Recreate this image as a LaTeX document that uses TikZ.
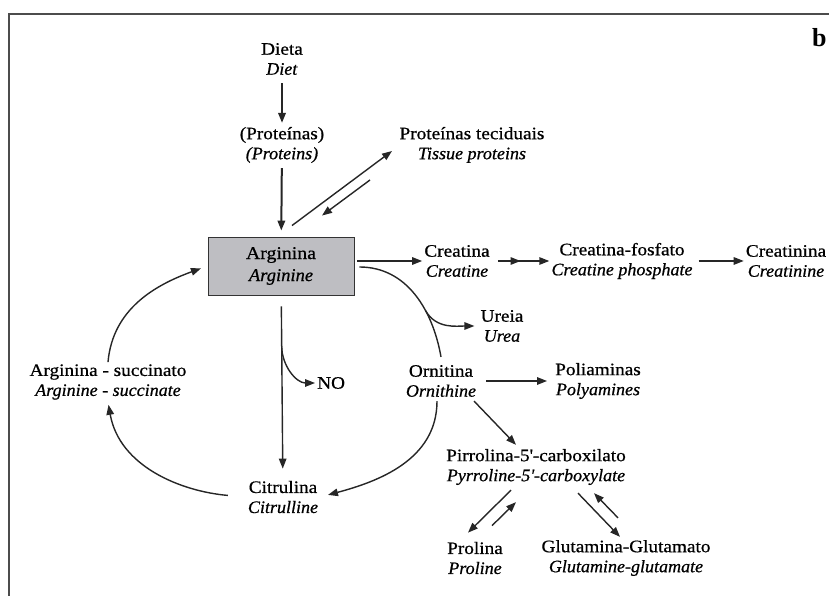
\documentclass[tikz,border=0pt]{standalone}
\usepackage{fontspec}
\setmainfont{Liberation Serif}[UprightFeatures={FakeStretch=1.1,FakeBold=0.7},ItalicFeatures={FakeStretch=1.03,FakeBold=0.7}]
\usetikzlibrary{arrows.meta,decorations.markings}
\definecolor{boxgray}{RGB}{190,190,194}
\begin{document}
\begin{tikzpicture}[x=1pt,y=1pt,
    lbl/.style={align=center, inner sep=2pt, font=\fontsize{17.5}{20}\selectfont},
    flow/.style={-{Triangle[length=10pt,width=7.5pt]}, line width=1.4pt, black!85},
    midtip/.style={postaction={decorate}, decoration={markings,
        mark=at position 0.5 with {\arrow{Triangle[length=10pt,width=7.5pt]}}}}]
\useasboundingbox (0,0) rectangle (829,596);
\draw[line width=1.4pt, black!70] (9,0) -- (9,582) -- (829,582);
\node[anchor=base west, inner sep=0pt, font=\fontsize{26}{26}\selectfont\bfseries] (panel) at (812,549) {b};

\node[lbl] (diet) at (282,537) {Dieta\\\textit{Diet}};
\node[lbl] (prot) at (282,451) {(Proteínas)\\\textit{(Proteins)}};
\node[lbl] (tissue) at (472,451) {Proteínas teciduais\\\textit{Tissue proteins}};
\node[draw=black!80, line width=0.9pt, fill=boxgray, minimum width=146pt, minimum height=58pt,
    align=center, font=\fontsize{18}{22}\selectfont] (arg) at (281,330) {Arginina\\\textit{Arginine}};
\node[lbl] (creat) at (457,335) {Creatina\\\textit{Creatine}};
\node[lbl] (cphos) at (622,335) {Creatina-fosfato\\\textit{Creatine phosphate}};
\node[lbl] (crn) at (786,335) {Creatinina\\\textit{Creatinine}};
\node[lbl] (urea) at (502,270) {Ureia\\\textit{Urea}};
\node[lbl] (orn) at (441,215) {Ornitina\\\textit{Ornithine}};
\node[lbl] (poly) at (598,215) {Poliaminas\\\textit{Polyamines}};
\node[lbl] (p5c) at (536,129) {Pirrolina-5\textquotesingle-carboxilato\\\textit{Pyrroline-5\textquotesingle-carboxylate}};
\node[lbl] (cit) at (283,99) {Citrulina\\\textit{Citrulline}};
\node[lbl] (argsuc) at (108,214) {Arginina - succinato\\\textit{Arginine - succinate}};
\node[lbl] (pro) at (475,38) {Prolina\\\textit{Proline}};
\node[lbl] (glu) at (626,38) {Glutamina-Glutamato\\\textit{Glutamine-glutamate}};
\node[lbl, anchor=west, inner sep=1pt] (no) at (316,213) {NO};

\draw[flow, line width=2pt, shorten <=6pt, shorten >=2pt] (diet) -- (prot);
\draw[flow, line width=2pt, shorten <=3pt, shorten >=6pt] (prot) -- (arg);
\draw[flow] ([xshift=11pt,yshift=11pt]arg.north) -- ([xshift=-80pt,yshift=-6pt]tissue.center);
\draw[flow] ([xshift=-102pt,yshift=-35pt]tissue.center) -- ([xshift=41pt,yshift=21pt]arg.north);
\draw[flow] ([xshift=3pt]arg.east |- creat.west) -- (creat.west);
\draw[flow, midtip, shorten <=6pt] (creat.east) -- (cphos.west);
\draw[flow, shorten <=4pt] (cphos.east) -- (crn.west);
\draw[flow, -] ([xshift=5pt,yshift=-1pt]arg.east) to[out=0,in=100] coordinate[pos=0.65] (ubr) ([yshift=6pt]orn.north);
\draw[flow, shorten >=4pt] (ubr) to[out=-60,in=180] (urea.west);
\draw[flow, shorten <=8pt, shorten >=6pt] (orn.east) -- (poly.west);
\draw[flow] ([xshift=33pt,yshift=-2pt]orn.south) -- ([xshift=-20pt,yshift=2pt]p5c.north);
\draw[flow, shorten >=8pt] ([xshift=-4pt,yshift=-2pt]orn.south) to[out=-90,in=15] (cit.east);
\draw[flow, shorten <=11pt, shorten >=10pt] (arg) -- coordinate[pos=0.275] (nobr) (cit);
\draw[flow, shorten >=1pt] (nobr) to[out=-90,in=180] (no.west);
\draw[flow, shorten <=18pt, shorten >=3pt] (cit.west) to[out=175,in=-80] (argsuc.south);
\draw[flow, shorten >=7pt] (argsuc.north) to[out=85,in=200] (arg.west);
\draw[flow] ([xshift=-25pt,yshift=-3pt]p5c.south) -- ([xshift=-7pt,yshift=7pt]pro.north);
\draw[flow] ([xshift=17pt,yshift=14pt]pro.north) -- ([xshift=-20pt,yshift=-15pt]p5c.south);
\draw[flow] ([xshift=42pt,yshift=-6pt]p5c.south) -- ([xshift=-6pt,yshift=1pt]glu.north);
\draw[flow] ([xshift=-8pt,yshift=20pt]glu.north) -- ([xshift=58pt,yshift=-6pt]p5c.south);
\end{tikzpicture}
\end{document}
